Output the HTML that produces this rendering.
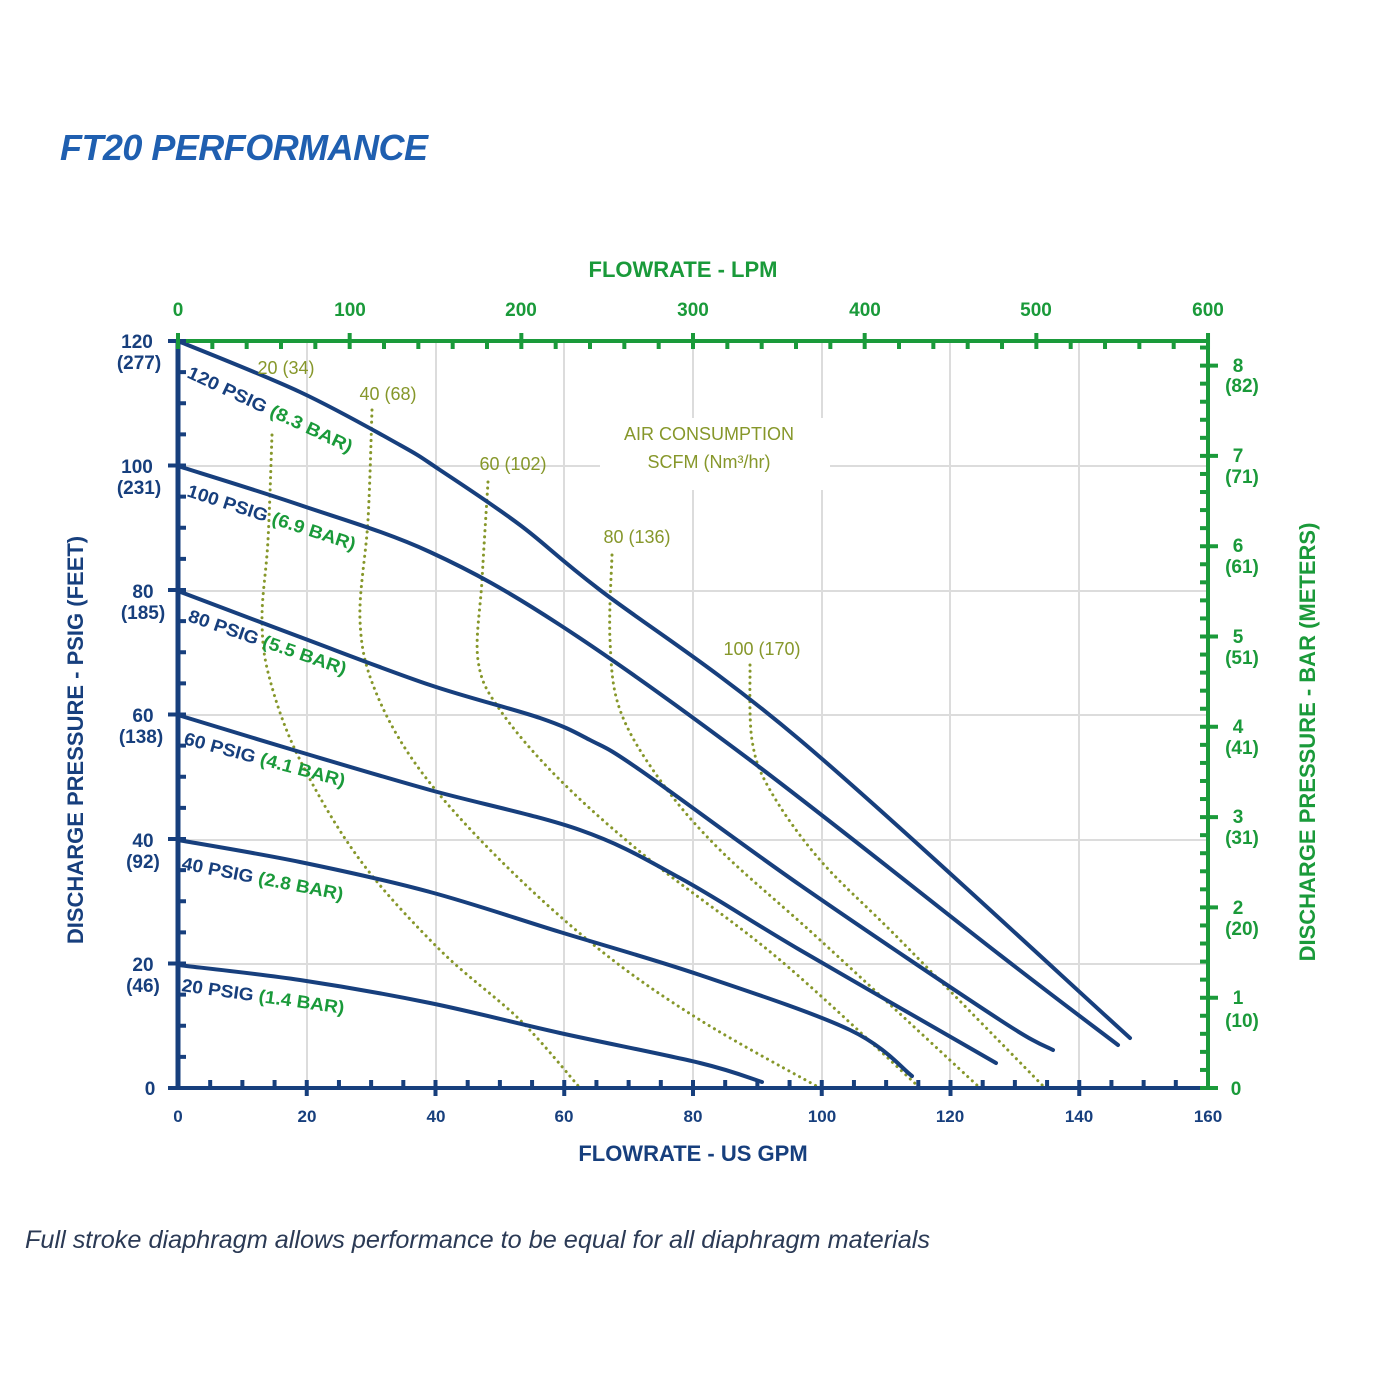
<!DOCTYPE html>
<html><head><meta charset="utf-8"><style>
html,body{margin:0;padding:0;background:#fff;}
svg{display:block;}
text{font-family:"Liberation Sans",sans-serif;}
</style></head><body>
<svg width="1400" height="1400" viewBox="0 0 1400 1400" xmlns="http://www.w3.org/2000/svg">
<text x="60" y="160" font-size="36" font-weight="bold" font-style="italic" fill="#1f5fb0" textLength="368">FT20 PERFORMANCE</text>

<g stroke="#dcdcdc" stroke-width="2">
<line x1="307" y1="341" x2="307" y2="1088"/><line x1="436" y1="341" x2="436" y2="1088"/>
<line x1="564" y1="341" x2="564" y2="1088"/><line x1="693" y1="341" x2="693" y2="1088"/>
<line x1="822" y1="341" x2="822" y2="1088"/><line x1="950" y1="341" x2="950" y2="1088"/>
<line x1="1079" y1="341" x2="1079" y2="1088"/>
<line x1="178" y1="466" x2="1208" y2="466"/><line x1="178" y1="591" x2="1208" y2="591"/>
<line x1="178" y1="715" x2="1208" y2="715"/><line x1="178" y1="840" x2="1208" y2="840"/>
<line x1="178" y1="964" x2="1208" y2="964"/>
</g>
<rect x="600" y="418" width="230" height="72" fill="#fff"/>

<g id="air" fill="none" stroke="#86972a" stroke-width="3" stroke-dasharray="0.1 6" stroke-linecap="round"></g>
<g id="crv" fill="none" stroke="#173f7d" stroke-width="4" stroke-linecap="round"></g>

<g font-size="18" fill="#86972a">
<text x="286" y="374" text-anchor="middle">20 (34)</text>
<text x="388" y="400" text-anchor="middle">40 (68)</text>
<text x="513" y="470" text-anchor="middle">60 (102)</text>
<text x="637" y="543" text-anchor="middle">80 (136)</text>
<text x="762" y="655" text-anchor="middle">100 (170)</text>
<text x="709" y="440" text-anchor="middle">AIR CONSUMPTION</text>
<text x="709" y="468" text-anchor="middle">SCFM (Nm³/hr)</text>
</g>

<g font-size="18" font-weight="bold" fill="#173f7d">
<text transform="translate(186,377) rotate(25)" textLength="180" lengthAdjust="spacingAndGlyphs">120 PSIG <tspan fill="#1a9a3a">(8.3 BAR)</tspan></text>
<text transform="translate(186,496) rotate(18)" textLength="176" lengthAdjust="spacingAndGlyphs">100 PSIG <tspan fill="#1a9a3a">(6.9 BAR)</tspan></text>
<text transform="translate(187,621) rotate(19)" textLength="166" lengthAdjust="spacingAndGlyphs">80 PSIG <tspan fill="#1a9a3a">(5.5 BAR)</tspan></text>
<text transform="translate(183,744) rotate(15)" textLength="166" lengthAdjust="spacingAndGlyphs">60 PSIG <tspan fill="#1a9a3a">(4.1 BAR)</tspan></text>
<text transform="translate(181,869) rotate(11)" textLength="164" lengthAdjust="spacingAndGlyphs">40 PSIG <tspan fill="#1a9a3a">(2.8 BAR)</tspan></text>
<text transform="translate(181,991) rotate(8)" textLength="164" lengthAdjust="spacingAndGlyphs">20 PSIG <tspan fill="#1a9a3a">(1.4 BAR)</tspan></text>
</g>

<line x1="178" y1="341" x2="1208" y2="341" stroke="#1a9a3a" stroke-width="4"/>
<line x1="1208" y1="341" x2="1208" y2="1088" stroke="#1a9a3a" stroke-width="4"/>
<line x1="178" y1="1088" x2="1208" y2="1088" stroke="#173f7d" stroke-width="4"/>
<line x1="178" y1="339" x2="178" y2="1090" stroke="#173f7d" stroke-width="5"/>

<g id="ticks"></g>

<g font-size="17" font-weight="bold" fill="#173f7d" text-anchor="middle">
<text x="178" y="1122">0</text><text x="307" y="1122">20</text><text x="436" y="1122">40</text>
<text x="564" y="1122">60</text><text x="693" y="1122">80</text><text x="822" y="1122">100</text>
<text x="950" y="1122">120</text><text x="1079" y="1122">140</text><text x="1208" y="1122">160</text>
</g>
<text x="693" y="1161" font-size="22" font-weight="bold" fill="#173f7d" text-anchor="middle">FLOWRATE - US GPM</text>
<text x="683" y="277" font-size="22" font-weight="bold" fill="#1a9a3a" text-anchor="middle">FLOWRATE - LPM</text>
<g font-size="19" font-weight="bold" fill="#1a9a3a" text-anchor="middle">
<text x="178" y="316">0</text><text x="350" y="316">100</text><text x="521" y="316">200</text>
<text x="693" y="316">300</text><text x="865" y="316">400</text><text x="1036" y="316">500</text><text x="1208" y="316">600</text>
</g>
<g font-size="19" font-weight="bold" fill="#173f7d" text-anchor="middle">
<text x="137" y="348">120</text><text x="139" y="369">(277)</text>
<text x="137" y="473">100</text><text x="139" y="494">(231)</text>
<text x="143" y="598">80</text><text x="143" y="619">(185)</text>
<text x="143" y="722">60</text><text x="141" y="743">(138)</text>
<text x="143" y="847">40</text><text x="143" y="868">(92)</text>
<text x="143" y="971">20</text><text x="143" y="992">(46)</text>
<text x="150" y="1095">0</text>
</g>
<g font-size="19" font-weight="bold" fill="#1a9a3a" text-anchor="middle">
<text x="1238" y="372">8</text><text x="1242" y="392">(82)</text>
<text x="1238" y="462">7</text><text x="1242" y="483">(71)</text>
<text x="1238" y="552">6</text><text x="1242" y="573">(61)</text>
<text x="1238" y="643">5</text><text x="1242" y="664">(51)</text>
<text x="1238" y="733">4</text><text x="1242" y="754">(41)</text>
<text x="1238" y="823">3</text><text x="1242" y="844">(31)</text>
<text x="1238" y="914">2</text><text x="1242" y="935">(20)</text>
<text x="1238" y="1004">1</text><text x="1242" y="1027">(10)</text>
<text x="1236" y="1095">0</text>
</g>
<text transform="translate(83,740) rotate(-90)" font-size="22" font-weight="bold" fill="#173f7d" text-anchor="middle">DISCHARGE PRESSURE  - PSIG (FEET)</text>
<text transform="translate(1315,742) rotate(-90)" font-size="22" font-weight="bold" fill="#1a9a3a" text-anchor="middle">DISCHARGE PRESSURE - BAR (METERS)</text>

<text x="25" y="1248" font-size="25" font-style="italic" fill="#2b3a55" textLength="905" lengthAdjust="spacingAndGlyphs">Full stroke diaphragm allows performance to be equal for all diaphragm materials</text>
</svg>
<script>
var ns='http://www.w3.org/2000/svg';
function smooth(p){var d='M'+p[0][0]+','+p[0][1];for(var i=0;i<p.length-1;i++){var a=p[i-1]||p[i],b=p[i],c=p[i+1],e=p[i+2]||c;
d+=' C'+(b[0]+(c[0]-a[0])/6)+','+(b[1]+(c[1]-a[1])/6)+' '+(c[0]-(e[0]-b[0])/6)+','+(c[1]-(e[1]-b[1])/6)+' '+c[0]+','+c[1];}return d;}
function addP(id,pts){var g=document.getElementById(id);pts.forEach(function(p){var e=document.createElementNS(ns,'path');e.setAttribute('d',smooth(p));g.appendChild(e);});}
addP('air',[
[[272,435],[268,540],[262,620],[270,680],[300,760],[360,860],[440,950],[520,1020],[580,1088]],
[[372,410],[368,520],[360,620],[375,690],[420,770],[500,860],[600,950],[700,1020],[820,1088]],
[[488,482],[482,580],[478,660],[500,710],[560,780],[650,860],[780,960],[920,1088]],
[[612,555],[610,640],[620,710],[660,780],[720,850],[820,940],[980,1088]],
[[750,665],[752,740],[770,790],[820,860],[900,940],[1045,1088]]]);
addP('crv',[
[[178,341],[300,392],[400,445],[440,470],[520,525],[600,590],[800,740],[1130,1038]],
[[178,466],[300,505],[430,552],[560,625],[750,760],[1000,955],[1118,1045]],
[[178,591],[300,637],[430,685],[540,718],[590,740],[640,770],[800,885],[1000,1020],[1053,1050]],
[[178,715],[300,752],[430,790],[580,830],[680,878],[800,950],[996,1063]],
[[178,840],[300,862],[430,892],[560,932],[700,975],[850,1030],[912,1076]],
[[178,965],[300,980],[430,1003],[560,1033],[700,1063],[762,1082]]]);
var g=document.getElementById('ticks');
function L(x1,y1,x2,y2,c,w){var l=document.createElementNS(ns,'line');l.setAttribute('x1',x1);l.setAttribute('y1',y1);l.setAttribute('x2',x2);l.setAttribute('y2',y2);l.setAttribute('stroke',c);l.setAttribute('stroke-width',w);g.appendChild(l);}
for(var v=5;v<160;v+=5){var x=178+v*6.4375;if(v%20==0)L(x,1080,x,1096,'#173f7d',4);else L(x,1080,x,1088,'#173f7d',4);}
for(var v=0;v<=120;v+=5){var y=1088-v*6.225;if(v%20==0)L(168,y,186,y,'#173f7d',4);else L(178,y,186,y,'#173f7d',4);}
for(var v=0;v<=600;v+=20){var x=178+v*1.7167;if(v%100==0)L(x,333,x,349,'#1a9a3a',4);else L(x,341,x,349,'#1a9a3a',4);}
for(var k=0;k<=41;k++){var v=k*0.2;var y=1088-v*90.3;if(k%5==0)L(1200,y,1218,y,'#1a9a3a',4);else L(1200,y,1208,y,'#1a9a3a',4);}
</script>
</body></html>
